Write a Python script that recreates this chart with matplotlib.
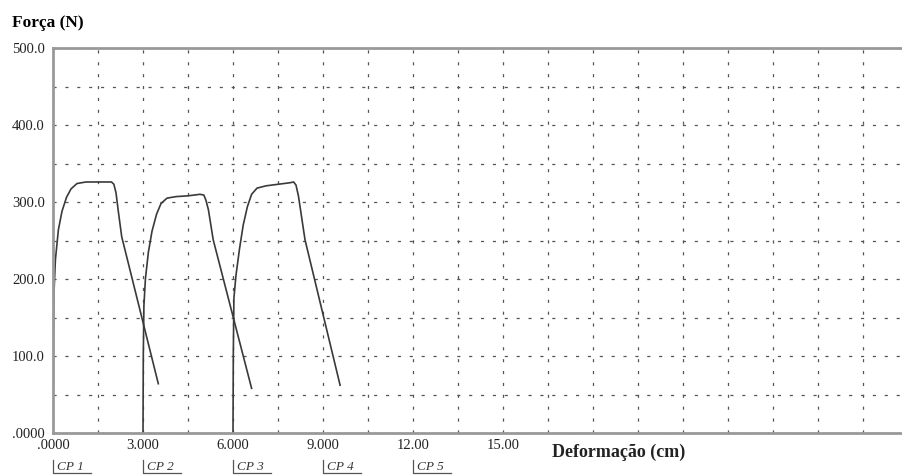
import numpy as np
import matplotlib.pyplot as plt

# curvas (deformacao em cm, forca em N)
cp1_x = [0.0, 0.01, 0.03, 0.08, 0.18, 0.3, 0.45, 0.6, 0.8, 1.1, 1.5, 1.95, 2.03, 2.1, 2.17, 2.29, 3.51]
cp1_y = [0, 100, 180, 225, 264, 288, 306, 317, 324, 326, 326, 326, 323, 312, 290, 255, 64]

cp2_x = [3.0, 3.01, 3.03, 3.08, 3.18, 3.3, 3.45, 3.6, 3.8, 4.1, 4.5, 4.9, 5.03, 5.1, 5.18, 5.34, 6.62]
cp2_y = [0, 100, 165, 200, 235, 262, 284, 298, 305, 307, 308, 310, 309, 302, 290, 251, 58]

cp3_x = [6.0, 6.01, 6.03, 6.1, 6.22, 6.34, 6.48, 6.62, 6.8, 7.1, 7.5, 7.9, 8.02, 8.1, 8.18, 8.25, 8.4, 9.57]
cp3_y = [0, 100, 175, 205, 240, 270, 294, 310, 318, 321, 323, 325, 326, 322, 308, 290, 251, 62]

cp_nomes = ["CP 1", "CP 2", "CP 3", "CP 4", "CP 5"]
cp_inicio = [0.0, 3.0, 6.0, 9.0, 12.0]

x_labels = [".0000", "3.000", "6.000", "9.000", "12.00", "15.00"]
y_labels = [".0000", "100.0", "200.0", "300.0", "400.0", "500.0"]

plt.rcParams['font.family'] = ['Liberation Serif', 'DejaVu Serif']

fig = plt.figure(figsize=(9.02, 4.76), dpi=100)
ax = fig.add_axes([53/902, 43/476, 1 - 53/902, 385/476])

cor = '#3a3a3a'
for xs, ys in [(cp1_x, cp1_y), (cp2_x, cp2_y), (cp3_x, cp3_y)]:
    ax.plot(xs, ys, color=cor, lw=1.2)

ax.set_xlim(0, 28.3)
ax.set_ylim(0, 500)

xt = np.arange(0, 28.3, 1.5)
ax.set_xticks(xt)
ax.set_xticklabels([x_labels[i // 2] if i % 2 == 0 and i // 2 < len(x_labels) else ""
                    for i in range(len(xt))], fontsize=10.5)
yt = np.arange(0, 501, 50)
ax.set_yticks(yt)
ax.set_yticklabels([y_labels[i // 2] if i % 2 == 0 else "" for i in range(len(yt))], fontsize=10.5)
ax.tick_params(length=0, pad=4, colors='#222222')
ax.tick_params(axis='y', pad=6)

ax.grid(True, color='#555555', lw=0.9, linestyle=(0, (2.5, 7)))
for s in ['left', 'bottom', 'top']:
    ax.spines[s].set_color('#999999')
    ax.spines[s].set_linewidth(2)
ax.spines['right'].set_visible(False)

fig.text(12/902, 1 - 23/476, "Força (N)", fontsize=12.5, fontweight='bold', va='center')
ax.text(16.65, -0.05, "Deformação (cm)", transform=ax.get_xaxis_transform(),
        fontsize=13, fontweight='bold', va='center', ha='left', color='#222222')

# etiquetas dos corpos de prova
tr = ax.get_xaxis_transform()
for nome, x0 in zip(cp_nomes, cp_inicio):
    ax.text(x0 + 0.12, -0.088, nome, transform=tr, fontsize=9.5, style='italic',
            va='center', ha='left', color='#333333')
    ax.plot([x0, x0, x0 + 1.25], [-0.07, -0.104, -0.104], transform=tr,
            color='#555555', lw=0.9, clip_on=False)

fig.savefig('out.png', dpi=100)
